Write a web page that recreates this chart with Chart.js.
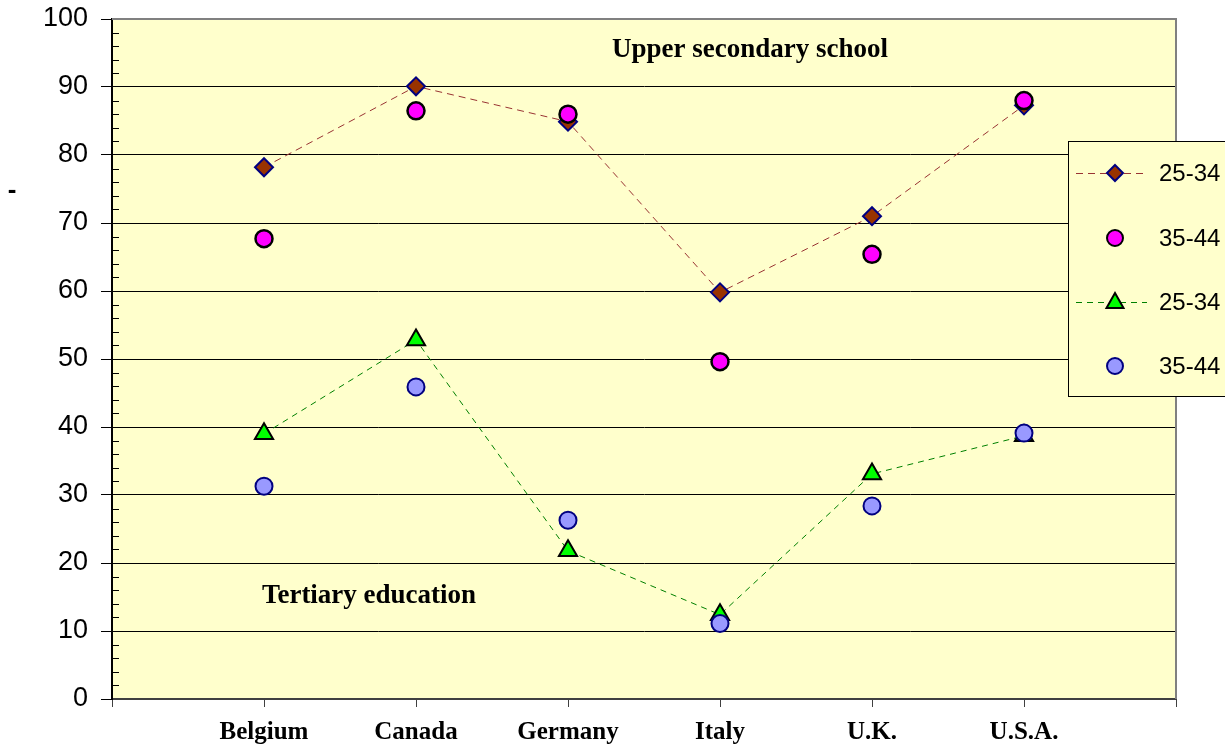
<!DOCTYPE html>
<html>
<head>
<meta charset="utf-8">
<script src="https://cdn.jsdelivr.net/npm/chart.js@4.4.1/dist/chart.umd.min.js"></script>
<style>
  html, body { margin: 0; padding: 0; background: #fff; }
  #wrap { width: 1225px; height: 748px; position: relative; }
</style>
</head>
<body>
<div id="wrap"><canvas id="chart" width="1225" height="748"></canvas></div>
<script>
// ---- data ----
const countries = ['Belgium', 'Canada', 'Germany', 'Italy', 'U.K.', 'U.S.A.'];
const upper2534 = [78.2, 90.1, 84.9, 59.8, 71.0, 87.3];
const upper3544 = [67.7, 86.5, 86.0, 49.6, 65.4, 88.0];
const tert2534  = [39.0, 52.8, 21.8, 12.4, 33.1, 38.7];
const tert3544  = [31.3, 45.9, 26.3, 11.1, 28.4, 39.1];
const seriesLabels = ['25-34', '35-44', '25-34', '35-44'];
const yTicks = [0, 10, 20, 30, 40, 50, 60, 70, 80, 90, 100];

const toXY = arr => arr.map((v, i) => ({ x: i, y: v }));

// styles
const BG = '#FFFFCC';
const styles = [
    { shape: 'diamond', fill: '#993300', stroke: '#000080', line: '#993333', dash: [7, 5] },
    { shape: 'circle',  fill: '#FF00FF', stroke: '#000000', line: null },
    { shape: 'triangle', fill: '#00FF00', stroke: '#000000', line: '#008000', dash: [6, 5] },
    { shape: 'circle',  fill: '#9999FF', stroke: '#000080', line: null }
];

// draw a marker by hand (used for the legend box)
function drawMarker(ctx, shape, x, y, fill, stroke) {
    ctx.save();
    ctx.fillStyle = fill;
    ctx.strokeStyle = stroke;
    ctx.lineWidth = 2;
    ctx.beginPath();
    if (shape === 'diamond') {
        ctx.moveTo(x, y - 8); ctx.lineTo(x + 8, y); ctx.lineTo(x, y + 8); ctx.lineTo(x - 8, y);
        ctx.closePath();
    } else if (shape === 'triangle') {
        ctx.moveTo(x, y - 9); ctx.lineTo(x + 8.5, y + 6); ctx.lineTo(x - 8.5, y + 6);
        ctx.closePath();
    } else {
        ctx.arc(x, y, 8, 0, Math.PI * 2);
    }
    ctx.fill();
    ctx.stroke();
    ctx.restore();
}

const decorPlugin = {
    id: 'decor',
    beforeDraw(chart) {
        const { ctx, chartArea: a } = chart;
        ctx.save();
        ctx.fillStyle = BG;
        ctx.fillRect(a.left, a.top, a.right - a.left, a.bottom - a.top);
        ctx.restore();
    },
    afterDatasetsDraw(chart) {
        const { ctx, chartArea: a, scales } = chart;
        const y = scales.y;
        ctx.save();
        // top + right frame of the plot area
        ctx.strokeStyle = '#808080';
        ctx.lineWidth = 2;
        ctx.beginPath();
        ctx.moveTo(a.left, a.top);
        ctx.lineTo(a.right, a.top);
        ctx.lineTo(a.right, a.bottom);
        ctx.stroke();
        // minor ticks on the value axis, inside
        ctx.strokeStyle = '#000';
        ctx.lineWidth = 1;
        for (let v = 2; v < 100; v += 2) {
            if (v % 10 === 0) continue;
            const py = Math.round(y.getPixelForValue(v)) + 0.5;
            ctx.beginPath();
            ctx.moveTo(a.left, py);
            ctx.lineTo(a.left + 7, py);
            ctx.stroke();
        }
        // annotations
        ctx.fillStyle = '#000';
        ctx.font = 'bold 27px "Liberation Serif", "Times New Roman", serif';
        ctx.textAlign = 'center';
        ctx.textBaseline = 'middle';
        ctx.fillText('Upper secondary school', 750, 50);
        ctx.fillText('Tertiary education', 369, 596);
        ctx.font = 'bold 26px "Liberation Sans", Arial, sans-serif';
        ctx.fillText('-', 12, 191);

        // legend box
        const lx = 1068, ly = 141, lw = 170, lh = 256;
        ctx.fillStyle = BG;
        ctx.fillRect(lx, ly, lw, lh);
        ctx.strokeStyle = '#000';
        ctx.lineWidth = 1;
        ctx.strokeRect(lx + 0.5, ly + 0.5, lw, lh - 1);
        const rows = [173, 238, 302, 366];
        rows.forEach((ry, i) => {
            const s = styles[i];
            if (s.line) {
                ctx.save();
                ctx.strokeStyle = s.line;
                ctx.lineWidth = 1;
                ctx.setLineDash(s.dash);
                ctx.beginPath();
                ctx.moveTo(1076, ry + 0.5);
                ctx.lineTo(1147, ry + 0.5);
                ctx.stroke();
                ctx.restore();
            }
            drawMarker(ctx, s.shape, 1115, ry, s.fill, s.stroke);
            ctx.fillStyle = '#000';
            ctx.font = '24px "Liberation Sans", Arial, sans-serif';
            ctx.textAlign = 'left';
            ctx.textBaseline = 'middle';
            ctx.fillText(seriesLabels[i], 1159, ry + 1);
        });
        ctx.restore();
    }
};

const ctx = document.getElementById('chart');
new Chart(ctx, {
    type: 'line',
    data: {
        datasets: [
            {
                label: seriesLabels[0],
                data: toXY(upper2534),
                borderColor: styles[0].line,
                borderWidth: 1,
                borderDash: styles[0].dash,
                pointStyle: 'rectRot',
                pointRadius: 9,
                pointBackgroundColor: styles[0].fill,
                pointBorderColor: styles[0].stroke,
                pointBorderWidth: 2,
                order: 4
            },
            {
                label: seriesLabels[1],
                data: toXY(upper3544),
                showLine: false,
                pointStyle: 'circle',
                pointRadius: 8.5,
                pointBackgroundColor: styles[1].fill,
                pointBorderColor: styles[1].stroke,
                pointBorderWidth: 2.5,
                order: 3
            },
            {
                label: seriesLabels[2],
                data: toXY(tert2534),
                borderColor: styles[2].line,
                borderWidth: 1,
                borderDash: styles[2].dash,
                pointStyle: 'triangle',
                pointRadius: 10.5,
                pointBackgroundColor: styles[2].fill,
                pointBorderColor: styles[2].stroke,
                pointBorderWidth: 2,
                order: 2
            },
            {
                label: seriesLabels[3],
                data: toXY(tert3544),
                showLine: false,
                pointStyle: 'circle',
                pointRadius: 8.5,
                pointBackgroundColor: styles[3].fill,
                pointBorderColor: styles[3].stroke,
                pointBorderWidth: 2,
                order: 1
            }
        ]
    },
    options: {
        responsive: false,
        animation: false,
        layout: { padding: { top: 19, right: 49, left: 0, bottom: 0 } },
        plugins: {
            legend: { display: false },
            tooltip: { enabled: false }
        },
        scales: {
            x: {
                type: 'linear',
                min: -1,
                max: 6,
                afterFit: s => { s.height = 49; s.paddingLeft = 0; s.paddingRight = 0; },
                afterBuildTicks: s => { s.ticks = [-1, 0, 1, 2, 3, 4, 5, 6].map(v => ({ value: v })); },
                grid: {
                    drawOnChartArea: false,
                    drawTicks: true,
                    tickLength: 8,
                    tickColor: '#404040'
                },
                border: { color: '#404040', width: 2 },
                ticks: {
                    color: '#000',
                    autoSkip: false,
                    maxRotation: 0,
                    padding: 11,
                    font: { family: '"Liberation Serif", "Times New Roman", serif', size: 25, weight: 'bold' },
                    callback: v => countries[v] || ''
                }
            },
            y: {
                min: 0,
                max: 100,
                afterFit: s => { s.width = 112; s.paddingTop = 0; s.paddingBottom = 0; },
                afterBuildTicks: s => { s.ticks = yTicks.map(v => ({ value: v })); },
                grid: {
                    color: '#000',
                    lineWidth: 1,
                    tickLength: 11,
                    tickColor: '#000'
                },
                border: { color: '#000', width: 2 },
                ticks: {
                    color: '#000',
                    padding: 13,
                    font: { family: '"Liberation Sans", Arial, sans-serif', size: 27 }
                }
            }
        }
    },
    plugins: [decorPlugin]
});
</script>
</body>
</html>
